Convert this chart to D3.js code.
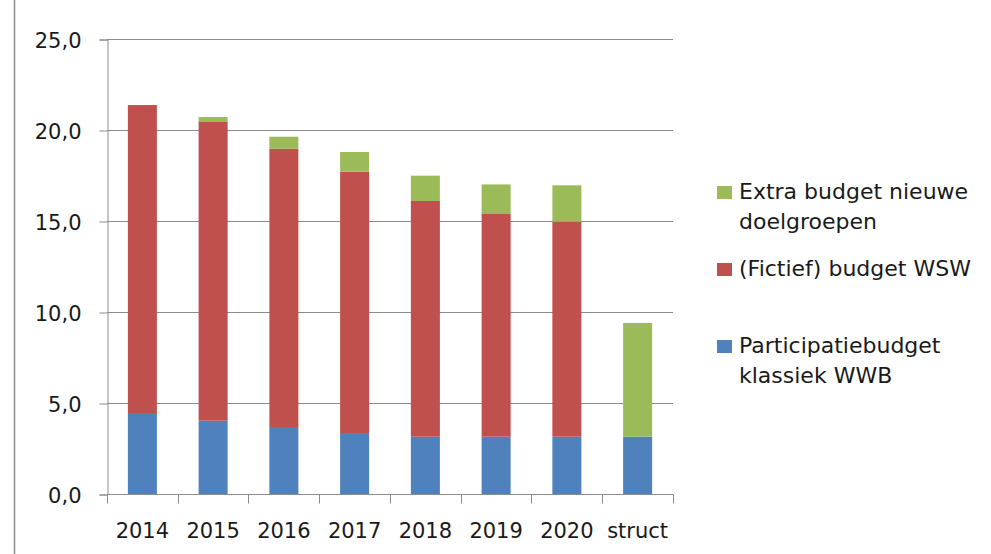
<!DOCTYPE html>
<html>
<head>
<meta charset="utf-8">
<script src="https://cdn.jsdelivr.net/npm/d3@7"></script>
<style>
  body { margin: 0; background: #fff; }
  svg text { font-family: "DejaVu Sans", sans-serif; fill: #1a1a1a; }
</style>
</head>
<body>
<svg id="chart" width="991" height="554"></svg>
<script>
// stacked budget chart

const categories = ["2014", "2015", "2016", "2017", "2018", "2019", "2020", "struct"];
const klassiek = [4.45, 4.03, 3.68, 3.35, 3.15, 3.15, 3.15, 3.15];
const wsw      = [16.92, 16.41, 15.29, 14.36, 12.95, 12.27, 11.81, 0];
const extra    = [0, 0.27, 0.66, 1.08, 1.39, 1.59, 2.0, 6.25];
const yTicks = [0, 5, 10, 15, 20, 25];

const seriesNames = ["Participatiebudget klassiek WWB", "(Fictief) budget WSW", "Extra budget nieuwe doelgroepen"];
const colors = ["#4f81bd", "#c0504d", "#9bbb59"];

const svg = d3.select("#chart");
const width = 991;
const height = 554;

const x0 = 107, x1 = 673, y0 = 494, y1 = 39;

const xScale = d3.scaleBand()
  .domain(categories)
  .range([x0, x1])
  .paddingInner(0.59)
  .paddingOuter(0.295);

const yScale = d3.scaleLinear()
  .domain([0, 25])
  .range([y0, y1]);

// chart frame left edge
svg.append("line")
  .attr("x1", 14.5).attr("x2", 14.5)
  .attr("y1", 0).attr("y2", height)
  .attr("stroke", "#8c8c8c")
  .attr("stroke-width", 1.5);

// gridlines
svg.append("g")
  .selectAll("line")
  .data(yTicks.filter(d => d > 0))
  .join("line")
  .attr("x1", x0).attr("x2", x1)
  .attr("y1", d => yScale(d) + 0.5).attr("y2", d => yScale(d) + 0.5)
  .attr("stroke", "#8c8c8c")
  .attr("stroke-width", 1);

// stacked data
const table = categories.map((c, i) => ({
  cat: c, s0: klassiek[i], s1: wsw[i], s2: extra[i]
}));
const stack = d3.stack().keys(["s0", "s1", "s2"]);
const layers = stack(table);

svg.append("g")
  .selectAll("g")
  .data(layers)
  .join("g")
  .attr("fill", (d, i) => colors[i])
  .selectAll("rect")
  .data(d => d)
  .join("rect")
  .attr("x", d => xScale(d.data.cat))
  .attr("width", xScale.bandwidth())
  .attr("y", d => yScale(d[1]))
  .attr("height", d => yScale(d[0]) - yScale(d[1]));

// Y axis
const yAxis = svg.append("g")
  .attr("transform", `translate(${x0 + 0.5},0.5)`)
  .call(d3.axisLeft(yScale)
    .tickValues(yTicks)
    .tickSize(8)
    .tickPadding(18)
    .tickFormat(d => d3.format(".1f")(d).replace(".", ",")));
yAxis.select(".domain").attr("stroke", "#8c8c8c");
yAxis.selectAll(".tick line").attr("stroke", "#8c8c8c");
yAxis.selectAll("text")
  .attr("fill", "#1a1a1a")
  .style("font-size", "21px")
  .attr("dy", "0.36em");

// X axis with boundary ticks
const xAxis = svg.append("g")
  .attr("transform", `translate(0,${y0 + 0.5})`);
xAxis.append("line")
  .attr("x1", x0).attr("x2", x1)
  .attr("stroke", "#8c8c8c");
const bounds = categories.map(c => xScale(c) - xScale.step() * xScale.paddingInner() / 2);
bounds.push(x1);
xAxis.selectAll(".bt")
  .data(bounds)
  .join("line")
  .attr("class", "bt")
  .attr("x1", d => Math.round(d) + 0.5).attr("x2", d => Math.round(d) + 0.5)
  .attr("y1", 0).attr("y2", 9)
  .attr("stroke", "#8c8c8c");
xAxis.selectAll("text")
  .data(categories)
  .join("text")
  .attr("x", d => xScale(d) + xScale.bandwidth() / 2)
  .attr("y", 43)
  .attr("text-anchor", "middle")
  .style("font-size", "21px")
  .text(d => d);

// legend
const legend = [
  { lines: ["Extra budget nieuwe", "doelgroepen"], color: colors[2], y: 199 },
  { lines: ["(Fictief) budget WSW"], color: colors[1], y: 276 },
  { lines: ["Participatiebudget", "klassiek WWB"], color: colors[0], y: 353 }
];
const lg = svg.append("g");
legend.forEach(item => {
  lg.append("rect")
    .attr("x", 717).attr("y", item.y - 13)
    .attr("width", 15).attr("height", 13)
    .attr("fill", item.color);
  item.lines.forEach((t, j) => {
    lg.append("text")
      .attr("x", 739)
      .attr("y", item.y + j * 30)
      .style("font-size", "22px")
      .text(t);
  });
});
</script>
</body>
</html>
